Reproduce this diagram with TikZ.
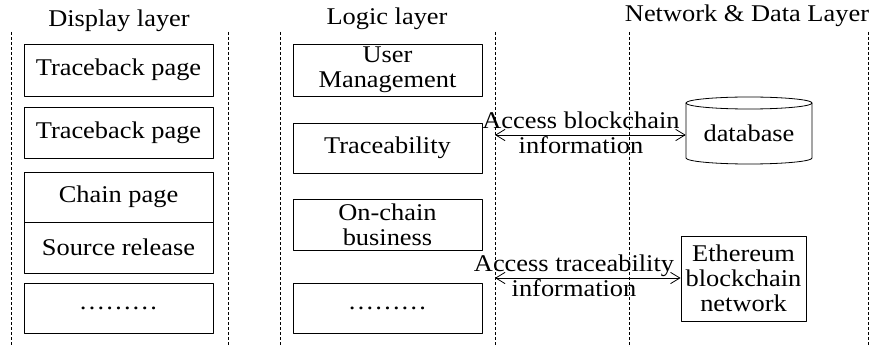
\documentclass[tikz,border=0pt]{standalone}
\usepackage{fontspec}
\setmainfont{Liberation Serif}[FakeStretch=1.1]
\usetikzlibrary{arrows.meta}

\begin{document}
\begin{tikzpicture}[x=0.75pt,y=-0.75pt,line join=round,
	every node/.style={font=\fontsize{18}{18.75}\selectfont},
	layer/.style={dash pattern=on 2.25pt off 1.5pt,line width=0.5pt},
	pagebox/.style={draw,line width=0.6pt,minimum width=141.75pt,minimum height=#1,inner sep=0pt,align=center},
	pagebox/.default=38.25pt,
	link/.style={{Straight Barb[length=7pt,width=8.5pt]}-{Straight Barb[length=7pt,width=8.5pt]},line width=0.6pt}]
	\useasboundingbox (0,0) rectangle (873,345);
	% column separators
	\foreach \x in {11,228,280,495,629,868}
		\draw[layer] (\x,32) -- (\x,345);
	\node[anchor=base] (hdisp) at (119,27) {Display layer};
	\node[anchor=base] (hlogic) at (387,25) {Logic layer};
	\node[anchor=base] (hnet) at (747,22) {Network \& Data Layer};
	% display layer
	\node[pagebox=39pt] (tb1) at (118.5,70) {Traceback page};
	\node[pagebox] (tb2) at (118.5,132.5) {Traceback page};
	\node[pagebox=37.5pt] (chain) at (118.5,197) {Chain page};
	\node[pagebox] (source) at (118.5,247.5) {Source release};
	\node[pagebox=37.5pt] (dmore) at (118.5,308) {………};
	% logic layer
	\node[pagebox=39pt] (user) at (387.5,70) {User\\Management};
	\node[pagebox=37.5pt] (trace) at (387.5,148) {Traceability};
	\node[pagebox] (onchain) at (387.5,224.5) {On-chain\\business};
	\node[pagebox=37.5pt] (lmore) at (387.5,308) {………};
	% network & data layer
	\node[minimum width=94.5pt,inner sep=0pt] (db) at (749,133) {database};
	\draw[line width=0.6pt] (749,103) ellipse [x radius=63,y radius=6];
	\draw[line width=0.6pt] (686,103) -- (686,158) arc[start angle=180,end angle=0,x radius=63,y radius=6] -- (812,103);
	\node[draw,line width=0.6pt,minimum width=93.75pt,minimum height=63.75pt,align=center] (eth) at (743.5,278.5) {Ethereum\\blockchain\\network};
	\path (495,135) coordinate (a1)
		(495,278) coordinate (a2);
	\draw[link] (a1) -- (db.west |- a1);
	\draw[link] (a2) -- (eth.west |- a2);
	\node[align=center] (lbl1) at (581,133) {Access blockchain\\information};
	\node[align=center] (lbl2) at (574,276) {Access traceability\\information};
\end{tikzpicture}
\end{document}
